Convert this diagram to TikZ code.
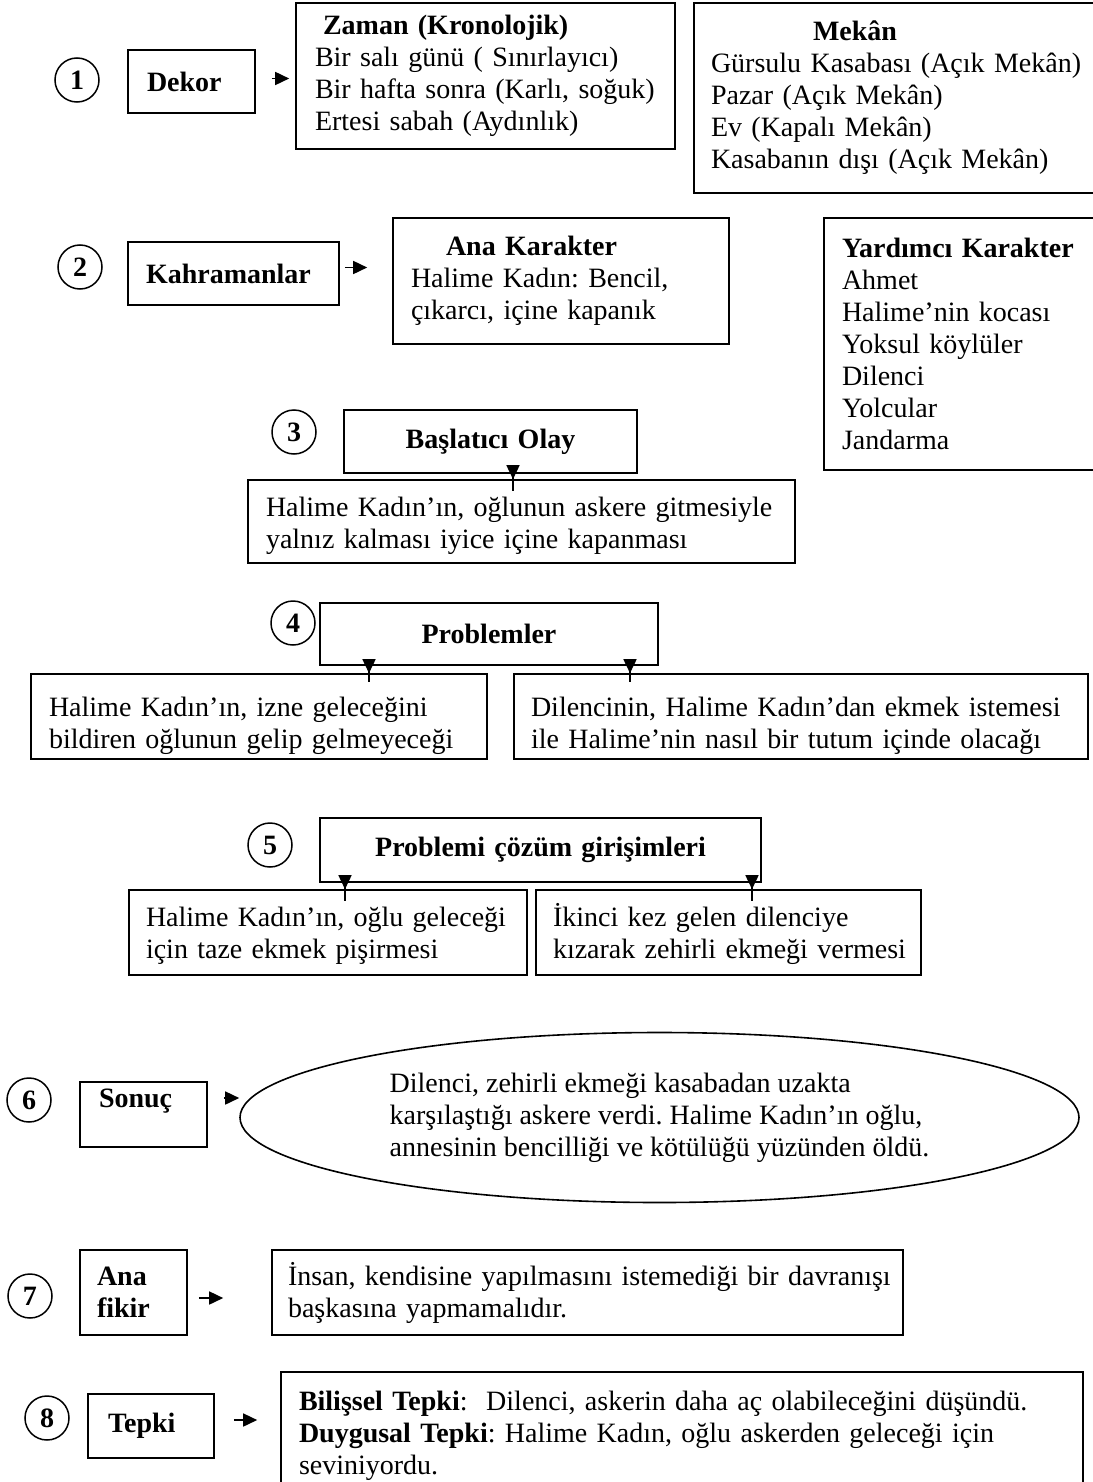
\documentclass[tikz,border=0pt]{standalone}
\usepackage{fontspec}
\setmainfont{Liberation Serif}
\usetikzlibrary{arrows.meta,shapes.geometric}
\newcommand\oneline[1]{\mbox{#1}}
\frenchspacing
\begin{document}
\begin{tikzpicture}[x=1pt,y=-1pt,
  every node/.style={font=\fontsize{28}{32}\selectfont\frenchspacing},
  box/.style={draw, line width=1.6pt, rectangle, inner ysep=0pt, align=left},
  num/.style={draw, circle, line width=1.5pt, minimum size=44pt, inner sep=0pt, font=\fontsize{28}{32}\selectfont\bfseries},
  ell/.style={draw, ellipse, line width=1.6pt, align=left},
  arr/.style={line width=1.6pt, -{Triangle[length=14pt,width=13pt]}},
]
\useasboundingbox (0,0) rectangle (1092,1482);

% Row 1
\node[num] (c1) at (77,80) {1};
\node[box, minimum width=127pt, minimum height=63pt, text width=89pt, inner xsep=19pt] (dekor) at (191.5,81.5) {\textbf{Dekor}};
\node[box, minimum width=379pt, minimum height=146pt, text width=341pt, inner xsep=19pt] (zaman) at (485.5,76) {\oneline{\hspace*{8pt}\textbf{Zaman (Kronolojik)}}\\\oneline{Bir salı günü ( Sınırlayıcı)}\\\oneline{Bir hafta sonra (Karlı, soğuk)}\\\oneline{Ertesi sabah (Aydınlık)}};
\node[box, minimum width=402pt, minimum height=190pt, text width=368pt, inner xsep=17pt] (mekan) at (895,98) {\oneline{\hspace*{102pt}\textbf{Mekân}}\\\oneline{Gürsulu Kasabası (Açık Mekân)}\\\oneline{Pazar (Açık Mekân)}\\\oneline{Ev (Kapalı Mekân)}\\\oneline{Kasabanın dışı (Açık Mekân)}};

% Row 2
\node[num] (c2) at (80,267) {2};
\node[box, minimum width=211pt, minimum height=63pt, text width=175pt, inner xsep=18pt] (kahr) at (233.5,273.5) {\textbf{Kahramanlar}};
\node[box, minimum width=336pt, minimum height=126pt, text width=300pt, inner xsep=18pt] (anak) at (561,281) {\oneline{\hspace*{35pt}\textbf{Ana Karakter}}\\\oneline{Halime Kadın: Bencil,}\\\oneline{çıkarcı, içine kapanık}};
\node[box, minimum width=272pt, minimum height=252pt, text width=236pt, inner xsep=18pt] (yard) at (960,344) {\oneline{\textbf{Yardımcı Karakter}}\\Ahmet\\\oneline{Halime’nin kocası}\\\oneline{Yoksul köylüler}\\Dilenci\\Yolcular\\Jandarma};

% Row 3
\node[num] (c3) at (294,432) {3};
\node[box, align=center, minimum width=293pt, minimum height=63pt, text width=257pt, inner xsep=18pt] (basl) at (490.5,441.5) {\textbf{Başlatıcı Olay}};
\node[box, minimum width=547pt, minimum height=83pt, text width=511pt, inner xsep=18pt, text height=28pt] (halb) at (521.5,521.5) {\oneline{Halime Kadın’ın, oğlunun askere gitmesiyle}\\\oneline{yalnız kalması iyice içine kapanması}};

% Row 4
\node[num] (c4) at (293,623) {4};
\node[box, align=center, minimum width=338pt, minimum height=62pt, text width=302pt, inner xsep=18pt] (prob) at (489,634) {\textbf{Problemler}};
\node[box, minimum width=456pt, minimum height=85pt, text width=420pt, inner xsep=18pt, text height=38pt] (p1) at (259,716.5) {\oneline{Halime Kadın’ın, izne geleceğini}\\\oneline{bildiren oğlunun gelip gelmeyeceği}};
\node[box, minimum width=574pt, minimum height=85pt, text width=540pt, inner xsep=17pt, text height=38pt] (p2) at (801,716.5) {\oneline{Dilencinin, Halime Kadın’dan ekmek istemesi}\\\oneline{ile Halime’nin nasıl bir tutum içinde olacağı}};

% Row 5
\node[num] (c5) at (270,845) {5};
\node[box, align=center, minimum width=441pt, minimum height=64pt, text width=405pt, inner xsep=18pt] (prob5) at (540.5,850) {\textbf{Problemi çözüm girişimleri}};
\node[box, minimum width=398pt, minimum height=85pt, text width=364pt, inner xsep=17pt, text height=26pt] (s1) at (328,932.5) {\oneline{Halime Kadın’ın, oğlu geleceği}\\\oneline{için taze ekmek pişirmesi}};
\node[box, minimum width=385pt, minimum height=85pt, text width=351pt, inner xsep=17pt, text height=26pt] (s2) at (728.5,932.5) {\oneline{İkinci kez gelen dilenciye}\\\oneline{kızarak zehirli ekmeği vermesi}};

% Row 6
\node[num] (c6) at (29,1100) {6};
\node[box, minimum width=127pt, minimum height=65pt, text width=89pt, inner xsep=19pt, text depth=32pt] (sonuc) at (143.5,1114.5) {\textbf{Sonuç}};
\node[ell, minimum width=839pt, minimum height=170pt] (ell) at (659.5,1117.5) {\oneline{Dilenci, zehirli ekmeği kasabadan uzakta}\\\oneline{karşılaştığı askere verdi. Halime Kadın’ın oğlu,}\\\oneline{annesinin bencilliği ve kötülüğü yüzünden öldü.}};

% Row 7
\node[num] (c7) at (30,1296) {7};
\node[box, minimum width=107pt, minimum height=85pt, text width=73pt, inner xsep=17pt] (anaf) at (133.5,1292.5) {\textbf{Ana}\\\textbf{fikir}};
\node[box, minimum width=631pt, minimum height=85pt, text width=599pt, inner xsep=16pt] (insan) at (587.5,1292.5) {\oneline{İnsan, kendisine yapılmasını istemediği bir davranışı}\\\oneline{başkasına yapmamalıdır.}};

% Row 8
\node[num] (c8) at (47,1418) {8};
\node[box, minimum width=126pt, minimum height=64pt, text width=86pt, inner xsep=20pt] (tepki) at (151,1426) {\textbf{Tepki}};
\node[box, minimum width=802pt, minimum height=128pt, text width=766pt, inner xsep=18pt] (bil) at (682,1436) {\oneline{\textbf{Bilişsel Tepki}:\ \ Dilenci, askerin daha aç olabileceğini düşündü.}\\\oneline{\textbf{Duygusal Tepki}: Halime Kadın, oğlu askerden geleceği için}\\\oneline{seviniyordu.}};

% Connectors
\draw[arr, shorten <=16pt, shorten >=6pt] ([yshift=3pt]dekor.east) -- ([yshift=3pt]dekor.east -| zaman.west);
\draw[arr, shorten <=5pt, shorten >=25pt] ([yshift=6pt]kahr.east) -- ([yshift=6pt]kahr.east -| anak.west);
\draw[arr, shorten <=-17pt] ([xshift=22.5pt]basl.south) -- ([xshift=22.5pt]basl.south |- halb.north);
\draw[arr, shorten <=-16pt] ([xshift=-120pt]prob.south) -- ([xshift=-120pt]prob.south |- p1.north);
\draw[arr, shorten <=-16pt] ([xshift=141pt]prob.south) -- ([xshift=141pt]prob.south |- p2.north);
\draw[arr, shorten <=-18pt] ([xshift=-195.5pt]prob5.south) -- ([xshift=-195.5pt]prob5.south |- s1.north);
\draw[arr, shorten <=-18pt] ([xshift=211.5pt]prob5.south) -- ([xshift=211.5pt]prob5.south |- s2.north);
\draw[arr, shorten <=16pt] ([yshift=16.5pt]sonuc.east) -- ([yshift=16.5pt]sonuc.east -| ell.west);
\draw[arr, shorten <=11pt, shorten >=48pt] ([yshift=-5.5pt]anaf.east) -- ([yshift=-5.5pt]anaf.east -| insan.west);
\draw[arr, shorten <=19pt, shorten >=23pt] ([yshift=6pt]tepki.east) -- ([yshift=6pt]tepki.east -| bil.west);
\end{tikzpicture}
\end{document}
